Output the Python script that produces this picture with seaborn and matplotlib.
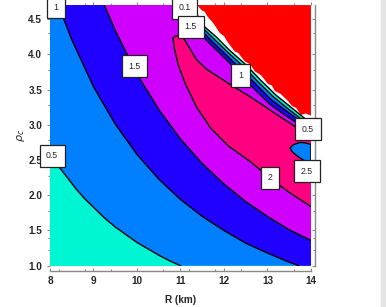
import matplotlib
matplotlib.use('Agg')
import matplotlib.pyplot as plt
from matplotlib.patches import Rectangle
import seaborn as sns

# plotted window
r_min, r_max = 8.0, 14.0
rho_min, rho_max = 1.0, 4.7

# contour lines, R in km and rho_c
# lower-left family (values rising with R and rho_c)
c05_r = [8.0, 8.2, 8.4, 8.6, 8.8, 9.0, 9.25, 9.5, 9.75, 10.0, 10.25, 10.5, 10.75, 11.0]
c05_rho = [2.60, 2.41, 2.25, 2.09, 1.95, 1.83, 1.68, 1.55, 1.44, 1.33, 1.24, 1.15, 1.07, 1.0]
c1_r = [8.19, 8.5, 9.0, 9.5, 10.0, 10.5, 11.0, 11.5, 12.0, 12.5, 13.0, 13.5, 13.72]
c1_rho = [4.70, 4.21, 3.54, 3.01, 2.58, 2.23, 1.94, 1.70, 1.50, 1.32, 1.18, 1.05, 1.0]
c15_r = [9.25, 9.5, 10.0, 10.5, 11.0, 11.5, 12.0, 12.5, 13.0, 13.5, 14.0]
c15_rho = [4.70, 4.34, 3.72, 3.22, 2.80, 2.45, 2.16, 1.91, 1.70, 1.51, 1.36]
# level 2: elongated pink lobe (lower edge, then upper edge)
c2_low_r = [10.83, 10.86, 10.95, 11.1, 11.37, 11.7, 12.1, 12.6, 13.05, 13.5, 14.0]
c2_low_rho = [4.23, 4.08, 3.85, 3.60, 3.25, 2.95, 2.70, 2.48, 2.25, 2.04, 1.84]
c2_up_r = [10.83, 10.88, 10.97, 11.06, 11.2, 11.36, 11.6, 11.9, 12.2, 12.6, 13.06, 13.4, 13.75, 14.0]
c2_up_rho = [4.23, 4.26, 4.27, 4.24, 4.10, 3.93, 3.79, 3.67, 3.55, 3.40, 3.21, 3.07, 2.93, 2.85]
# steep side beyond the ridge (values falling again)
band_r = [11.06, 11.33, 11.68, 11.98, 12.37, 12.71, 13.06, 13.40, 13.75, 14.0]
c15u_rho = [4.70, 4.37, 4.15, 3.97, 3.73, 3.50, 3.29, 3.14, 3.00, 2.92]
c1u_r = [11.13, 11.40, 11.72, 12.02, 12.41, 12.76, 13.10, 13.45, 13.78, 14.0]
c1u_rho = [4.70, 4.39, 4.19, 4.01, 3.78, 3.56, 3.35, 3.19, 3.04, 2.96]
c05u_r = [11.20, 11.47, 11.77, 12.07, 12.46, 12.80, 13.15, 13.49, 13.80, 14.0]
c05u_rho = [4.70, 4.40, 4.22, 4.04, 3.82, 3.60, 3.39, 3.22, 3.07, 2.99]
c01u_r = [11.26, 11.52, 11.82, 12.11, 12.51, 12.85, 13.20, 13.54, 13.84, 14.0]
c01u_rho = [4.70, 4.41, 4.25, 4.07, 3.85, 3.63, 3.42, 3.25, 3.10, 3.02]
# ragged edge of the excluded (red) region
red_r = [11.38, 11.50, 11.55, 11.63, 11.72, 11.78, 11.91, 12.00, 12.09, 12.25, 12.33,
         12.48, 12.60, 12.71, 12.86, 13.01, 13.10, 13.17, 13.30, 13.47, 13.56, 13.66, 13.77, 13.88, 14.0]
red_rho = [4.70, 4.62, 4.61, 4.53, 4.47, 4.42, 4.30, 4.26, 4.17, 4.04, 4.02,
           3.90, 3.86, 3.76, 3.70, 3.58, 3.56, 3.48, 3.44, 3.34, 3.27, 3.24, 3.14, 3.16, 3.13]
# small island above 2.5 at the right edge
c25_r = [13.52, 13.6, 13.75, 13.9, 14.0, 14.0, 13.85, 13.7, 13.58, 13.52]
c25_rho = [2.67, 2.72, 2.75, 2.74, 2.72, 2.47, 2.49, 2.55, 2.61, 2.67]

# inline contour labels
lab_text = ['1', '1.5', '0.5', '0.1', '1.5', '1', '0.5', '2.5', '2']
lab_r = [8.13, 9.94, 8.05, 11.1, 11.24, 12.38, 13.93, 13.91, 13.05]
lab_rho = [4.67, 3.83, 2.56, 4.66, 4.39, 3.70, 2.94, 2.34, 2.25]

x_major = [8, 9, 10, 11, 12, 13, 14]
x_minor = [8.2, 8.8, 9.4, 10.6, 11.2, 11.8, 12.4, 13.6]
y_major = [1.0, 1.5, 2.0, 2.5, 3.0, 3.5, 4.0, 4.5]
y_minor = [1.22, 1.4, 1.78, 2.28, 2.78, 3.28, 3.78, 4.3]

col_cyan = '#00f5d2'
col_lblue = '#0080ff'
col_blue = '#2000ff'
col_mag = '#d000ff'
col_pink = '#ff0080'
col_red = '#ff0000'
col_axis = '#888888'

sns.set_style('ticks')
plt.rcParams['font.family'] = ['Liberation Sans', 'DejaVu Sans']

fig = plt.figure(figsize=(3.86, 3.07), dpi=100)
ax = fig.add_axes([0.1295, 0.1345, 0.676, 0.849])

# filled bands, painted from the lowest level up
ax.fill([r_min, r_max, r_max, r_min], [rho_min, rho_min, rho_max, rho_max], color=col_cyan, lw=0)
ax.fill(c05_r + [r_max, r_max, r_min], c05_rho + [rho_min, rho_max, rho_max], color=col_lblue, lw=0)
ax.fill(c1_r + [r_max, r_max], c1_rho + [rho_min, rho_max], color=col_blue, lw=0)
ax.fill(c15_r + [r_max], c15_rho + [rho_max], color=col_mag, lw=0)
ax.fill(c2_low_r + c2_up_r[::-1], c2_low_rho + c2_up_rho[::-1], color=col_pink, lw=0)
ax.fill(band_r + [r_max], c15u_rho + [rho_max], color=col_blue, lw=0)
ax.fill(c1u_r + [r_max], c1u_rho + [rho_max], color=col_lblue, lw=0)
ax.fill(c05u_r + [r_max], c05u_rho + [rho_max], color=col_cyan, lw=0)
ax.fill(c01u_r + [r_max], c01u_rho + [rho_max], color='white', lw=0)
ax.fill(red_r + [r_max], red_rho + [rho_max], color=col_red, lw=0)
ax.fill(c25_r, c25_rho, color=col_lblue, lw=0)

# contour lines
for xs, ys in [(c05_r, c05_rho), (c1_r, c1_rho), (c15_r, c15_rho),
               (c2_low_r[::-1] + c2_up_r, c2_low_rho[::-1] + c2_up_rho),
               (band_r, c15u_rho), (c1u_r, c1u_rho), (c05u_r, c05u_rho),
               (c01u_r, c01u_rho), (c25_r, c25_rho)]:
    sns.lineplot(x=xs, y=ys, sort=False, estimator=None, color='black', lw=1.0, ax=ax)

for t, x, y in zip(lab_text, lab_r, lab_rho):
    ax.text(x, y, t, fontsize=6.3, ha='center', va='center', zorder=5,
            bbox=dict(boxstyle='square,pad=0.75', fc='white', ec='#222222', lw=0.9))

ax.set_xlim(r_min, r_max)
ax.set_ylim(rho_min, rho_max)
ax.set_xticks(x_major)
ax.set_xticks(x_minor, minor=True)
ax.set_yticks(y_major)
ax.set_yticks(y_minor, minor=True)
ax.set_yticklabels(['1.0', '1.5', '2.0', '2.5', '3.0', '3.5', '4.0', '4.5'])

for s in ['left', 'top', 'right']:
    ax.spines[s].set_visible(False)
ax.spines['bottom'].set_position(('outward', 3.6))
ax.spines['bottom'].set_color(col_axis)
ax.spines['bottom'].set_linewidth(1.0)

ax.tick_params(axis='x', which='both', direction='in', top=False, bottom=True,
               color=col_axis, labelsize=7.2, pad=4)
ax.tick_params(axis='y', which='both', direction='out', left=True, right=False,
               color=col_axis, labelsize=7.2, pad=3)
ax.tick_params(which='major', length=2.5, width=0.8)
ax.tick_params(which='minor', length=1.8, width=0.8)
for lbl in ax.get_xticklabels() + ax.get_yticklabels():
    lbl.set_fontweight('bold')

# top ticks point outward, right axis sits a little off the data with inward ticks
secx = ax.secondary_xaxis('top')
secx.set_xticks(x_major)
secx.set_xticks(x_minor, minor=True)
secx.spines['top'].set_visible(False)
secx.tick_params(which='both', direction='out', color=col_axis, labeltop=False, width=0.8)
secx.tick_params(which='major', length=2.5)
secx.tick_params(which='minor', length=1.8)

secy = ax.secondary_yaxis('right')
secy.set_yticks(y_major)
secy.set_yticks(y_minor, minor=True)
secy.spines['right'].set_position(('outward', 3.0))
secy.spines['right'].set_color(col_axis)
secy.spines['right'].set_linewidth(1.0)
secy.tick_params(which='both', direction='in', color=col_axis, labelright=False, width=0.8)
secy.tick_params(which='major', length=2.5)
secy.tick_params(which='minor', length=1.8)

ax.set_xlabel('R (km)', fontsize=7.2, fontweight='bold', labelpad=6)
ax.set_ylabel(r'$\rho_c$', fontsize=8, labelpad=1)

# light strip at the right border of the screenshot
fig.patches.append(Rectangle((0.986, 0), 0.014, 1, transform=fig.transFigure,
                             color='#e4e4e4', zorder=0))

fig.savefig('out.png', dpi=100)
